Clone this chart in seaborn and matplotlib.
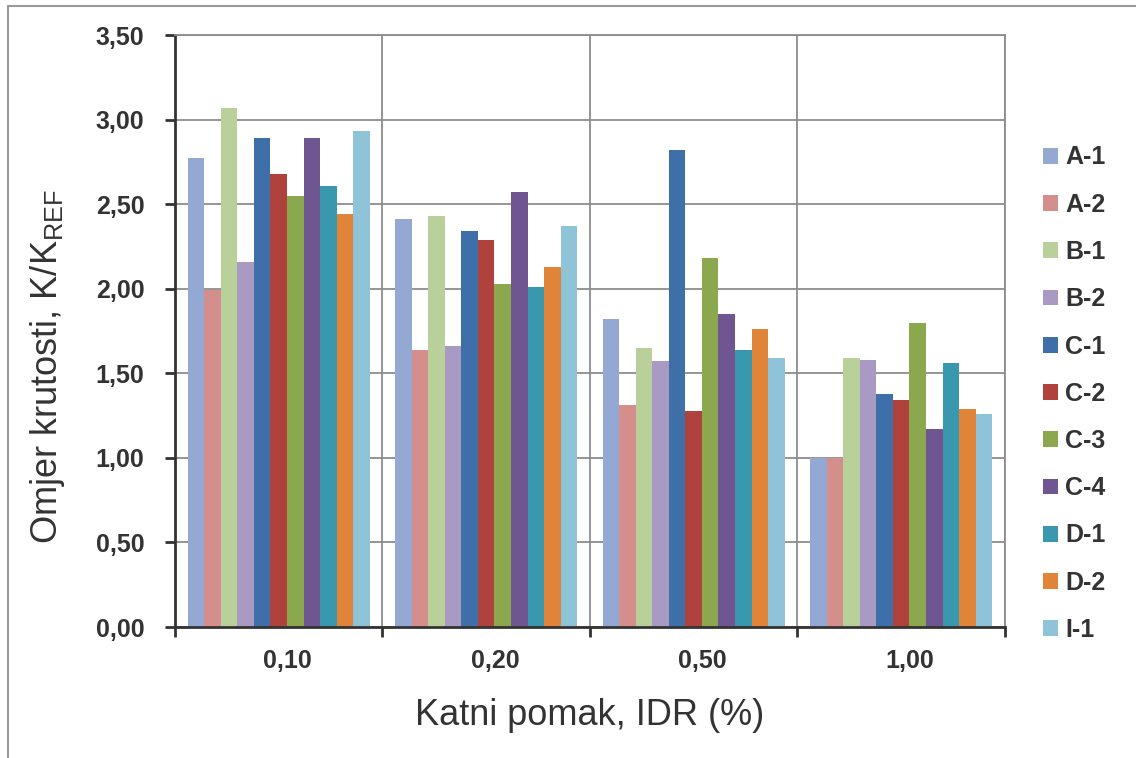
import numpy as np
import pandas as pd
import matplotlib
matplotlib.use('Agg')
import matplotlib.pyplot as plt
import matplotlib.transforms as mtransforms
from matplotlib.lines import Line2D
import seaborn as sns

# podaci ocitani s grafa
idr_razine = ['0,10', '0,20', '0,50', '1,00']
uzorci = ['A-1', 'A-2', 'B-1', 'B-2', 'C-1', 'C-2', 'C-3', 'C-4', 'D-1', 'D-2', 'I-1']
k_idr_010 = [2.77, 1.99, 3.07, 2.16, 2.89, 2.68, 2.55, 2.89, 2.61, 2.44, 2.93]
k_idr_020 = [2.41, 1.64, 2.43, 1.66, 2.34, 2.29, 2.03, 2.57, 2.01, 2.13, 2.37]
k_idr_050 = [1.82, 1.31, 1.65, 1.57, 2.82, 1.28, 2.18, 1.85, 1.64, 1.76, 1.59]
k_idr_100 = [1.00, 1.00, 1.59, 1.58, 1.38, 1.34, 1.80, 1.17, 1.56, 1.29, 1.26]
y_ticks = [0.0, 0.5, 1.0, 1.5, 2.0, 2.5, 3.0, 3.5]

boje = ['#93A9D3', '#D48E8C', '#B9D09A', '#A99AC4', '#3F6FA8', '#B0423E',
        '#8BA84F', '#6F5690', '#3A98AE', '#E0843A', '#8FC3D8']

sns.set_style('white')
plt.rcParams['font.family'] = ['Liberation Sans', 'DejaVu Sans']
plt.rcParams['mathtext.default'] = 'regular'

redovi = []
for idr, vrijednosti in zip(idr_razine, [k_idr_010, k_idr_020, k_idr_050, k_idr_100]):
    for uz, v in zip(uzorci, vrijednosti):
        redovi.append({'idr': idr, 'uzorak': uz, 'K': v})
df = pd.DataFrame(redovi)

fig = plt.figure(figsize=(11.36, 7.58), dpi=100)
ax = fig.add_axes([0.154, 0.1728, 0.7306, 0.781])

sns.barplot(data=df, x='idr', y='K', hue='uzorak', order=idr_razine, hue_order=uzorci,
            palette=boje, saturation=1, width=0.877, errorbar=None, linewidth=0, ax=ax)

tamna = '#333333'
siva = '#8c8c8c'

ax.set_ylim(0, 3.5)
ax.set_xlim(-0.5, 3.5)
ax.set_yticks(y_ticks)
ax.set_yticklabels([f'{t:.2f}'.replace('.', ',') for t in y_ticks],
                   fontsize=18, fontweight='bold', color=tamna)
ax.set_xticks(range(len(idr_razine)))
ax.set_xticklabels(idr_razine, fontsize=18, fontweight='bold', color=tamna)
ax.set_xticks(np.arange(-0.5, 3.6, 1.0), minor=True)

ax.tick_params(axis='x', which='major', length=0, pad=16)
ax.tick_params(axis='x', which='minor', length=7, width=2, color=tamna, direction='out', bottom=True)
ax.tick_params(axis='y', which='major', length=7, width=2, color=tamna, direction='out', left=True, pad=15)

# oznake kategorija su u originalu malo pomaknute udesno
pomak = mtransforms.ScaledTranslation(9 / 100, 0, fig.dpi_scale_trans)
for lbl in ax.get_xticklabels():
    lbl.set_transform(lbl.get_transform() + pomak)

ax.grid(True, axis='y', which='major', color=siva, linewidth=1.3)
ax.grid(True, axis='x', which='minor', color=siva, linewidth=1.3)
ax.set_axisbelow(True)

for s in ['left', 'bottom']:
    ax.spines[s].set_color(tamna)
    ax.spines[s].set_linewidth(2)
for s in ['top', 'right']:
    ax.spines[s].set_color(siva)
    ax.spines[s].set_linewidth(1.3)

ax.set_xlabel('Katni pomak, IDR (%)', fontsize=26, color=tamna)
ax.set_ylabel(r'Omjer krutosti, K/K$_{REF}$', fontsize=26, color=tamna)
ax.xaxis.set_label_coords(0.5, -0.12)
ax.yaxis.set_label_coords(-0.13, 0.44)

leg = ax.legend(loc='upper left', bbox_to_anchor=(1020 / 1136, 1 - 123 / 758),
                bbox_transform=fig.transFigure, frameon=False,
                handlelength=0.6, handleheight=0.6, handletextpad=0.3,
                labelspacing=0.93, prop={'size': 18, 'weight': 'bold'})
for t in leg.get_texts():
    t.set_color(tamna)

# okvir grafa
fig.add_artist(Line2D([8 / 1136, 1], [1 - 6 / 758, 1 - 6 / 758], transform=fig.transFigure,
                      color='#999999', linewidth=1.5))
fig.add_artist(Line2D([8 / 1136, 8 / 1136], [0, 1 - 6 / 758], transform=fig.transFigure,
                      color='#999999', linewidth=1.5))

fig.savefig('out.png', dpi=100)
